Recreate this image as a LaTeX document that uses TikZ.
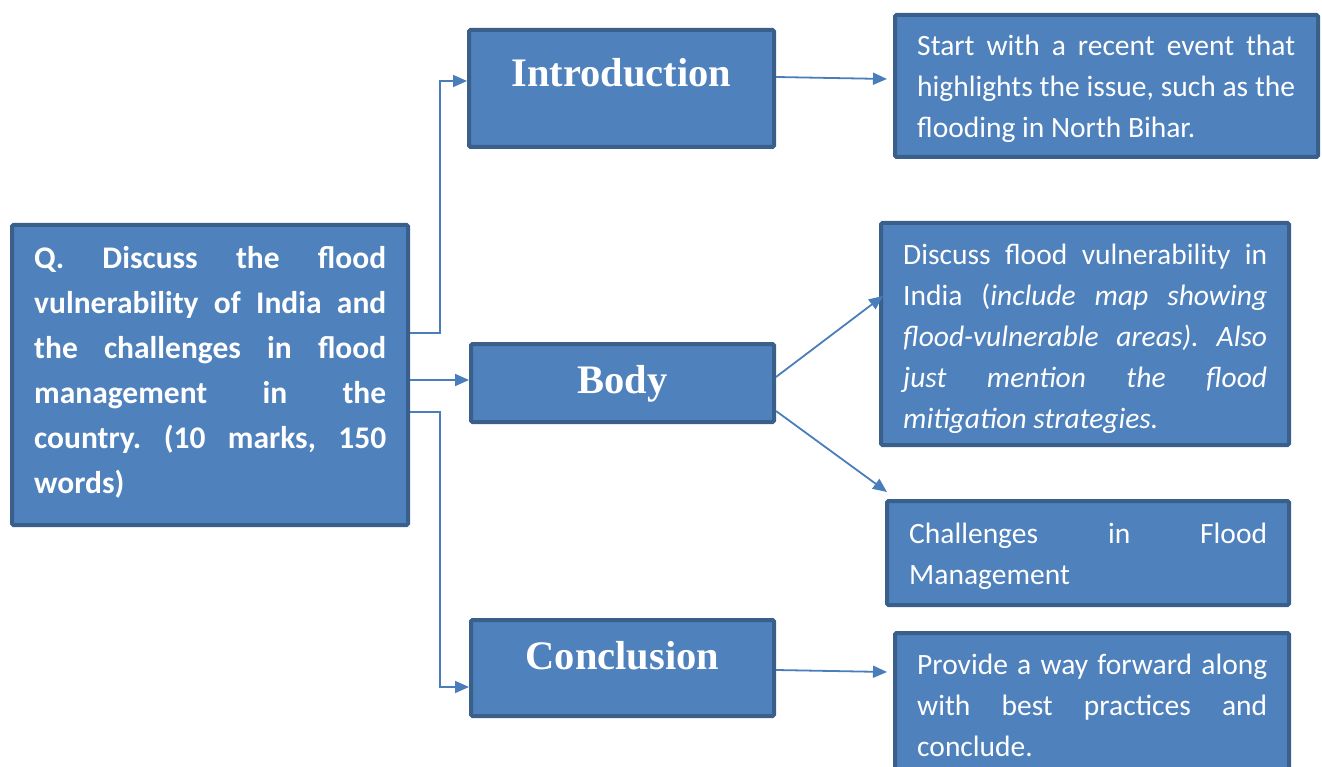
\documentclass[tikz,border=0pt]{standalone}
\usepackage{fontspec}
\setmainfont{Carlito}
\newfontfamily\headfont{Liberation Serif}
\usetikzlibrary{arrows.meta}
\definecolor{boxfill}{HTML}{4F81BD}
\definecolor{boxline}{HTML}{3A5F8B}
\definecolor{wirecol}{HTML}{4A7EBB}

\begin{document}
\hyphenpenalty=10000
\tolerance=9999
\frenchspacing
\begin{tikzpicture}[x=1pt,y=-1pt,
  panel/.style={draw=boxline, fill=boxfill, line width=4pt, rounded corners=1.5pt, inner sep=0pt},
  headtext/.style={text=white, font=\headfont\bfseries\fontsize{40.5}{46}\selectfont, inner sep=0pt, anchor=base},
  bodytext/.style={text=white, font=\fontsize{29.5}{41}\selectfont, inner sep=0pt, anchor=base west, align=justify},
  wire/.style={draw=wirecol, line width=1.8pt},
  tip/.style={-{Triangle[length=14pt,width=12pt]}}
]
\useasboundingbox (0,0) rectangle (1322,767);
\clip (0,0) rectangle (1322,767);

% question box
\node[panel, minimum width=396pt, minimum height=300pt] (q) at (210,375) {};
\node[bodytext, text width=352pt, font=\bfseries\fontsize{31.5}{45}\selectfont] (qtext) at (34,269)
  {Q. Discuss the flood\linebreak vulnerability of India and\linebreak the challenges in flood\linebreak management in the\linebreak country. (10 marks, 150\linebreak words)};

% section boxes
\node[panel, minimum width=305pt, minimum height=117pt] (intro) at (621.5,88.5) {};
\node[headtext] (introlbl) at (621.5,87) {Introduction};
\node[panel, minimum width=303pt, minimum height=78pt] (body) at (622.5,383) {};
\node[headtext] (bodylbl) at (622.5,393) {Body};
\node[panel, minimum width=303pt, minimum height=96pt] (concl) at (622.5,668) {};
\node[headtext] (concllbl) at (622.5,669) {Conclusion};

% detail boxes
\node[panel, minimum width=423pt, minimum height=142pt] (introT) at (1106.5,86) {};
\node[bodytext, text width=378pt] (introtext) at (917,56)
  {Start with a recent event that\linebreak highlights the issue, such as the\linebreak flooding in North Bihar.};
\node[panel, minimum width=408pt, minimum height=222pt] (bodyT) at (1085,334) {};
\node[bodytext, text width=364pt] (bodytxt) at (903,265)
  {Discuss flood vulnerability in\linebreak India (\textit{include map showing\linebreak flood-vulnerable areas). Also\linebreak just mention the flood\linebreak mitigation strategies.}};
\node[panel, minimum width=402pt, minimum height=104pt] (chal) at (1088,553) {};
\node[bodytext, text width=358pt] (chaltext) at (909,543)
  {Challenges in Flood\linebreak Management};
\node[panel, minimum width=394pt, minimum height=170pt] (conclT) at (1092,718) {};
\node[bodytext, text width=350pt] (concltext) at (917,674)
  {Provide a way forward along\linebreak with best practices and\linebreak conclude.};

% connectors from the question
\coordinate (trunk) at (440,0);
\draw[wire, tip] (q.east |- 0,333) -| (trunk |- 0,81) -- (intro.west |- 0,81);
\draw[wire, tip] (q.east |- 0,380) -- (body.west |- 0,380);
\draw[wire, tip] (q.east |- 0,412) -| (trunk |- 0,687) -- (concl.west |- 0,687);

% connectors to the details
\coordinate (introIn) at (887,79);
\coordinate (bodyIn1) at (883,296);
\coordinate (bodyIn2) at (887,492);
\coordinate (conclIn) at (887,672);
\draw[wire, tip] (intro.east |- 0,77) -- (introIn);
\draw[wire, tip] (body.east |- 0,377) -- (bodyIn1);
\draw[wire, tip] (body.east |- 0,411) -- (bodyIn2);
\draw[wire, tip] (concl.east |- 0,670) -- (conclIn);
\end{tikzpicture}
\end{document}
